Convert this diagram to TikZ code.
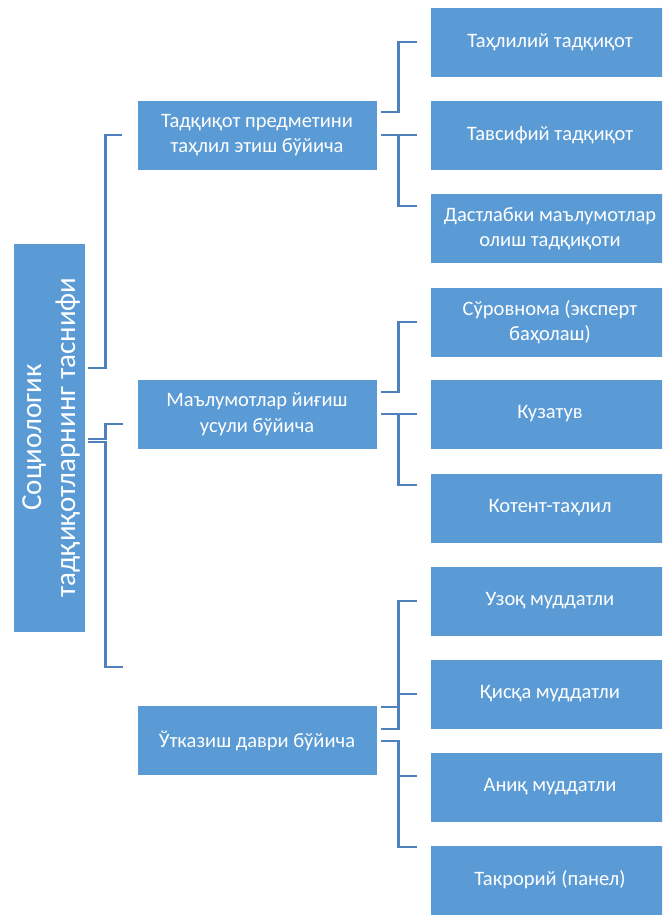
\documentclass[tikz,border=0pt]{standalone}
\usepackage{fontspec}
\setmainfont{Carlito}
\usetikzlibrary{calc}
\definecolor{boxblue}{HTML}{5B9BD5}
\definecolor{linkblue}{HTML}{4F81BD}
\tikzset{
  box/.style={fill=boxblue, draw=white, line width=0.8pt, text=white,
    minimum width=240pt, minimum height=70pt, inner sep=0pt, align=center,
    font=\fontsize{20.5}{25.5}\selectfont},
  rootbox/.style={fill=boxblue, draw=white, line width=0.8pt, text=white,
    minimum width=72pt, minimum height=389pt, inner sep=0pt},
  conn/.style={draw=linkblue, line width=2.2pt}
}
\begin{document}
\begin{tikzpicture}[x=1pt,y=-1pt]
\useasboundingbox (0,0) rectangle (662,915);
\clip (0,0) rectangle (662,915);
% root
\node[rootbox] (R) at (49,437.5) {};
\node[rotate=90, text=white, align=center, font=\fontsize{29}{34}\selectfont] (Rt) at ([xshift=2pt]R.center) {Социологик\\тадқиқотларнинг таснифи};
% level 2
\node[box] (A) at (257,135) {Тадқиқот предметини\\таҳлил этиш бўйича};
\node[box] (B) at (257,414) {Маълумотлар йиғиш\\усули бўйича};
\node[box] (C) at (257,740.5) {Ўтказиш даври бўйича};
% level 3
\node[box] (n1) at (550,42) {Таҳлилий тадқиқот};
\node[box] (n2) at (550,135) {Тавсифий тадқиқот};
\node[box] (n3) at (550,228.5) {Дастлабки маълумотлар\\олиш тадқиқоти};
\node[box] (n4) at (550,322) {Сўровнома (эксперт\\баҳолаш)};
\node[box] (n5) at (550,414) {Кузатув};
\node[box] (n6) at (550,508) {Котент-таҳлил};
\node[box] (n7) at (550,601) {Узоқ муддатли};
\node[box] (n8) at (550,694) {Қисқа муддатли};
\node[box] (n9) at (550,787) {Аниқ муддатли};
\node[box] (n10) at (550,880) {Такрорий (панел)};
% root connectors
\draw[conn] ([shift={(3,-69.5)}]R.east) -- ++(17,0) |- ([xshift=-15pt]A.west);
\draw[conn] ([shift={(3,1.5)}]R.east) -- ++(17,0) |- ([shift={(-14,10)}]B.west);
\draw[conn] ([shift={(3,4.8)}]R.east) -- ++(17,0) |- ([shift={(-14,-73.5)}]C.west);
% A connectors
\draw[conn] ([shift={(4,-23)}]A.east) -- ++(17,0) |- ([xshift=-13pt]n1.west);
\draw[conn] ([xshift=4pt]A.east) -- ([xshift=-13pt]n2.west);
\draw[conn] ([xshift=4pt]A.east) -- ++(17,0) |- ([shift={(-13,-22.5)}]n3.west);
% B connectors
\draw[conn] ([shift={(4,-22)}]B.east) -- ++(17,0) |- ([xshift=-13pt]n4.west);
\draw[conn] ([xshift=4pt]B.east) -- ([xshift=-13pt]n5.west);
\draw[conn] ([xshift=4pt]B.east) -- ++(17,0) |- ([shift={(-13,-23)}]n6.west);
% C connectors
\draw[conn] ([shift={(4,-11.5)}]C.east) -- ++(17,0) |- ([xshift=-13pt]n7.west);
\draw[conn] ([shift={(4,-33.5)}]C.east) -- ++(17,0) |- ([xshift=-13pt]n8.west);
\draw[conn] ([shift={(4,0.5)}]C.east) -- ++(17,0) |- ([shift={(-13,-11)}]n9.west);
\draw[conn] ([shift={(4,0.5)}]C.east) -- ++(17,0) |- ([shift={(-13,-33)}]n10.west);
\end{tikzpicture}
\end{document}
